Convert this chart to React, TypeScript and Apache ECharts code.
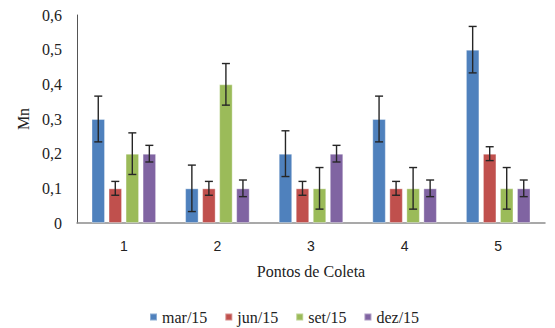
import React, { useEffect, useRef } from "react";
import * as echarts from "echarts";

const categories = ["1", "2", "3", "4", "5"];
const seriesNames = ["mar/15", "jun/15", "set/15", "dez/15"];
const colors = ["#4F81BD", "#C0504D", "#9BBB59", "#8064A2"];
const marValues = [0.3, 0.1, 0.2, 0.3, 0.5];
const junValues = [0.1, 0.1, 0.1, 0.1, 0.2];
const setValues = [0.2, 0.4, 0.1, 0.1, 0.1];
const dezValues = [0.2, 0.1, 0.2, 0.1, 0.1];
const marErrors = [0.066, 0.067, 0.066, 0.066, 0.067];
const junErrors = [0.02, 0.02, 0.02, 0.02, 0.02];
const setErrors = [0.06, 0.06, 0.06, 0.06, 0.06];
const dezErrors = [0.024, 0.024, 0.024, 0.024, 0.024];

const allValues = [marValues, junValues, setValues, dezValues];
const allErrors = [marErrors, junErrors, setErrors, dezErrors];

const CAT_GAP = 0.31;
const BAR_GAP = 0.26;

export default function App() {
  const ref = useRef<HTMLDivElement>(null);
  useEffect(() => {
    if (!ref.current) return;
    const chart = echarts.init(ref.current, undefined, { renderer: "svg" });
    const serif = "'Liberation Serif', 'Times New Roman', serif";
    const nSeries = seriesNames.length;

    const barSeries = seriesNames.map((name, i) => ({
      name,
      type: "bar",
      data: allValues[i],
      itemStyle: { color: colors[i], borderColor: "rgba(255,255,255,0.35)", borderWidth: 1 },
      barGap: `${BAR_GAP * 100}%`,
      barCategoryGap: `${CAT_GAP * 100}%`,
    }));

    const errSeries = seriesNames.map((name, si) => ({
      name: name + "_err",
      type: "custom",
      z: 10,
      silent: true,
      data: allValues[si].map((v, k) => [k, v - allErrors[si][k], v + allErrors[si][k]]),
      encode: { x: 0, y: [1, 2] },
      renderItem: (params: any, api: any) => {
        const idx = api.value(0);
        const lo = api.coord([idx, api.value(1)]);
        const hi = api.coord([idx, api.value(2)]);
        const catW = api.size([1, 0])[0];
        const total = catW * (1 - CAT_GAP);
        const bw = total / (nSeries + (nSeries - 1) * BAR_GAP);
        const x = lo[0] - total / 2 + si * bw * (1 + BAR_GAP) + bw / 2;
        const cap = 4;
        const style = { stroke: "#262626", lineWidth: 1.4 };
        return {
          type: "group",
          children: [
            { type: "line", shape: { x1: x, y1: hi[1], x2: x, y2: lo[1] }, style },
            { type: "line", shape: { x1: x - cap, y1: hi[1], x2: x + cap, y2: hi[1] }, style },
            { type: "line", shape: { x1: x - cap, y1: lo[1], x2: x + cap, y2: lo[1] }, style },
          ],
        };
      },
    }));

    chart.setOption({
      animation: false,
      color: colors,
      grid: { left: 77, right: 10, top: 15, bottom: 105, containLabel: false },
      legend: {
        data: seriesNames,
        left: 144,
        top: 304,
        icon: "rect",
        itemWidth: 7,
        itemHeight: 7,
        itemGap: 17,
        textStyle: { fontFamily: serif, fontSize: 16, color: "#222" },
      },
      xAxis: {
        type: "category",
        data: categories,
        name: "Pontos de Coleta",
        nameLocation: "middle",
        nameGap: 40,
        nameTextStyle: { fontFamily: serif, fontSize: 16, color: "#222" },
        axisLine: { lineStyle: { color: "#8c8c8c", width: 1.5 } },
        axisTick: { show: false },
        axisLabel: { fontFamily: "'Liberation Sans', Arial, sans-serif", fontSize: 14, color: "#222", margin: 16 },
      },
      yAxis: {
        type: "value",
        min: 0,
        max: 0.6,
        interval: 0.1,
        name: "Mn",
        nameLocation: "middle",
        nameGap: 40,
        nameRotate: 90,
        nameTextStyle: { fontFamily: serif, fontSize: 16, color: "#222" },
        axisLine: { show: true, lineStyle: { color: "#555", width: 1 } },
        axisTick: { show: false },
        splitLine: { show: false },
        axisLabel: {
          fontFamily: serif,
          fontSize: 16,
          color: "#222",
          margin: 15,
          formatter: (v: number) => (v === 0 ? "0" : v.toFixed(1).replace(".", ",")),
        },
      },
      series: [...barSeries, ...errSeries],
    });
    return () => chart.dispose();
  }, []);
  return <div ref={ref} style={{ width: 555, height: 328, position: "absolute", left: 0, top: 0 }} />;
}
